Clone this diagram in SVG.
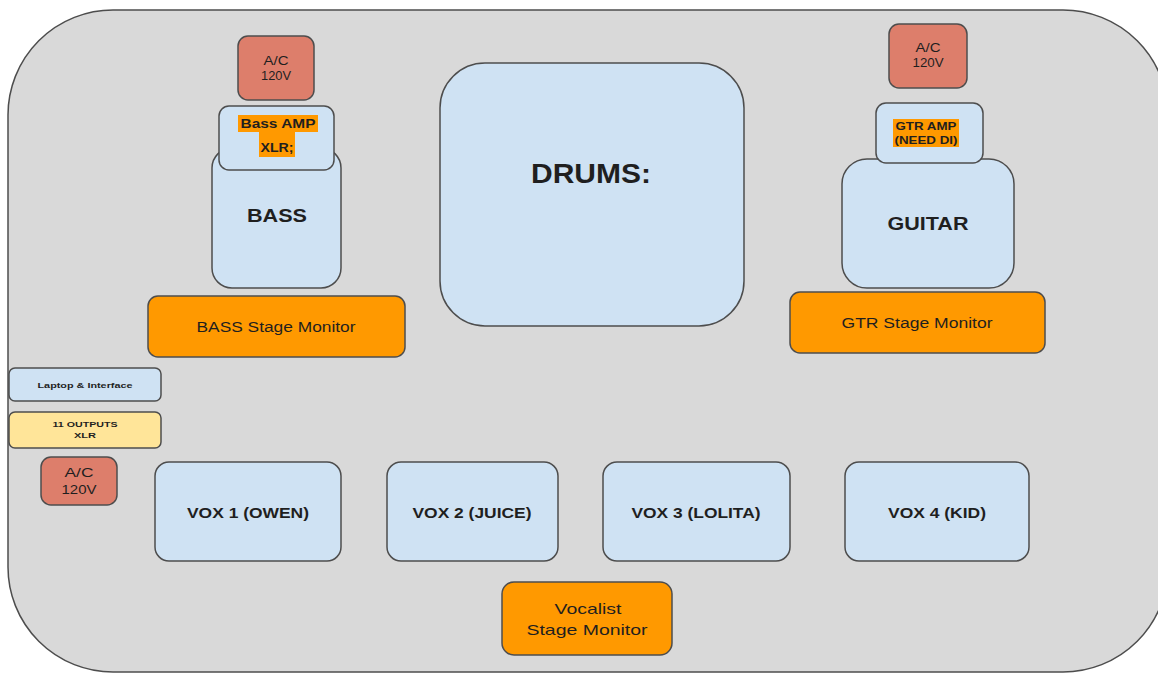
<svg xmlns="http://www.w3.org/2000/svg" width="1158" height="673" viewBox="0 0 1158 673">
<style>
text{font-family:"Liberation Sans",Arial,sans-serif;fill:#1f1f1f;text-anchor:middle}
.b{font-weight:bold}
.blue{fill:#cfe2f3;stroke:#4d4d4d;stroke-width:1.5}
.red{fill:#dd7e6b;stroke:#4d4d4d;stroke-width:1.5}
.org{fill:#ff9900;stroke:#4d4d4d;stroke-width:1.5}
.yel{fill:#ffe599;stroke:#4d4d4d;stroke-width:1.5}
.hl{fill:#ff9900}
</style>
<rect x="0" y="0" width="1158" height="673" fill="#ffffff"/>
<g id="stage">
<rect x="8" y="10" width="1160" height="662" rx="105" ry="105" fill="#d9d9d9" stroke="#4d4d4d" stroke-width="1.5"/>
</g>
<g id="connectors"></g>
<g id="ac-bass">
<rect class="red" x="238" y="36" width="76" height="64" rx="10"/>
<text x="276" y="65" font-size="12" textLength="25" lengthAdjust="spacingAndGlyphs">A/C</text>
<text x="276" y="80" font-size="12" textLength="30" lengthAdjust="spacingAndGlyphs">120V</text>
</g>
<g id="bass">
<rect class="blue" x="212" y="148" width="129" height="140" rx="20"/>
<text class="b" x="277" y="222" font-size="19" textLength="60" lengthAdjust="spacingAndGlyphs">BASS</text>
</g>
<g id="bass-amp">
<rect class="blue" x="219" y="106" width="115" height="64" rx="10"/>
<rect class="hl" x="238" y="115" width="80" height="17"/>
<rect class="hl" x="259" y="132" width="36" height="25"/>
<text class="b" x="278" y="128" font-size="12" textLength="75" lengthAdjust="spacingAndGlyphs">Bass AMP</text>
<text class="b" x="277" y="152" font-size="12" textLength="33" lengthAdjust="spacingAndGlyphs">XLR;</text>
</g>
<g id="bass-monitor">
<rect class="org" x="148" y="296" width="257" height="61" rx="10"/>
<text x="276" y="332" font-size="14" textLength="159" lengthAdjust="spacingAndGlyphs">BASS Stage Monitor</text>
</g>
<g id="drums">
<rect class="blue" x="440" y="63" width="304" height="263" rx="45"/>
<text class="b" x="591" y="183" font-size="28" textLength="120" lengthAdjust="spacingAndGlyphs">DRUMS:</text>
</g>
<g id="ac-gtr">
<rect class="red" x="889" y="24" width="78" height="64" rx="10"/>
<text x="928" y="52" font-size="12" textLength="25" lengthAdjust="spacingAndGlyphs">A/C</text>
<text x="928" y="67" font-size="12" textLength="31" lengthAdjust="spacingAndGlyphs">120V</text>
</g>
<g id="guitar">
<rect class="blue" x="842" y="159" width="172" height="129" rx="25"/>
<text class="b" x="928" y="230" font-size="19" textLength="81" lengthAdjust="spacingAndGlyphs">GUITAR</text>
</g>
<g id="gtr-amp">
<rect class="blue" x="876" y="103" width="107" height="60" rx="10"/>
<rect class="hl" x="893" y="119" width="66" height="13"/>
<rect class="hl" x="893" y="132" width="66" height="15"/>
<text class="b" x="926" y="130" font-size="10" textLength="61" lengthAdjust="spacingAndGlyphs">GTR AMP</text>
<text class="b" x="926" y="144" font-size="10" textLength="63" lengthAdjust="spacingAndGlyphs">(NEED DI)</text>
</g>
<g id="gtr-monitor">
<rect class="org" x="790" y="292" width="255" height="61" rx="10"/>
<text x="917" y="328" font-size="14" textLength="151" lengthAdjust="spacingAndGlyphs">GTR Stage Monitor</text>
</g>
<g id="laptop">
<rect class="blue" x="9" y="368" width="152" height="33" rx="6"/>
<text class="b" x="85" y="388" font-size="8" textLength="95" lengthAdjust="spacingAndGlyphs">Laptop &amp; Interface</text>
</g>
<g id="outputs">
<rect class="yel" x="9" y="412" width="152" height="36" rx="6"/>
<text class="b" x="85" y="427" font-size="8" textLength="65" lengthAdjust="spacingAndGlyphs">11 OUTPUTS</text>
<text class="b" x="85" y="438" font-size="8" textLength="22" lengthAdjust="spacingAndGlyphs">XLR</text>
</g>
<g id="ac-left">
<rect class="red" x="41" y="457" width="76" height="48" rx="10"/>
<text x="79" y="477" font-size="13" textLength="29" lengthAdjust="spacingAndGlyphs">A/C</text>
<text x="79" y="494" font-size="13" textLength="35" lengthAdjust="spacingAndGlyphs">120V</text>
</g>
<g id="vox1">
<rect class="blue" x="155" y="462" width="186" height="99" rx="14"/>
<text class="b" x="248" y="518" font-size="15" textLength="122" lengthAdjust="spacingAndGlyphs">VOX 1 (OWEN)</text>
</g>
<g id="vox2">
<rect class="blue" x="387" y="462" width="171" height="99" rx="14"/>
<text class="b" x="472" y="518" font-size="15" textLength="119" lengthAdjust="spacingAndGlyphs">VOX 2 (JUICE)</text>
</g>
<g id="vox3">
<rect class="blue" x="603" y="462" width="187" height="99" rx="14"/>
<text class="b" x="696" y="518" font-size="15" textLength="129" lengthAdjust="spacingAndGlyphs">VOX 3 (LOLITA)</text>
</g>
<g id="vox4">
<rect class="blue" x="845" y="462" width="184" height="99" rx="14"/>
<text class="b" x="937" y="518" font-size="15" textLength="98" lengthAdjust="spacingAndGlyphs">VOX 4 (KID)</text>
</g>
<g id="vocal-monitor">
<rect class="org" x="502" y="582" width="170" height="73" rx="12"/>
<text x="588" y="614" font-size="15" textLength="67" lengthAdjust="spacingAndGlyphs">Vocalist</text>
<text x="587" y="635" font-size="15" textLength="121" lengthAdjust="spacingAndGlyphs">Stage Monitor</text>
</g>
</svg>
